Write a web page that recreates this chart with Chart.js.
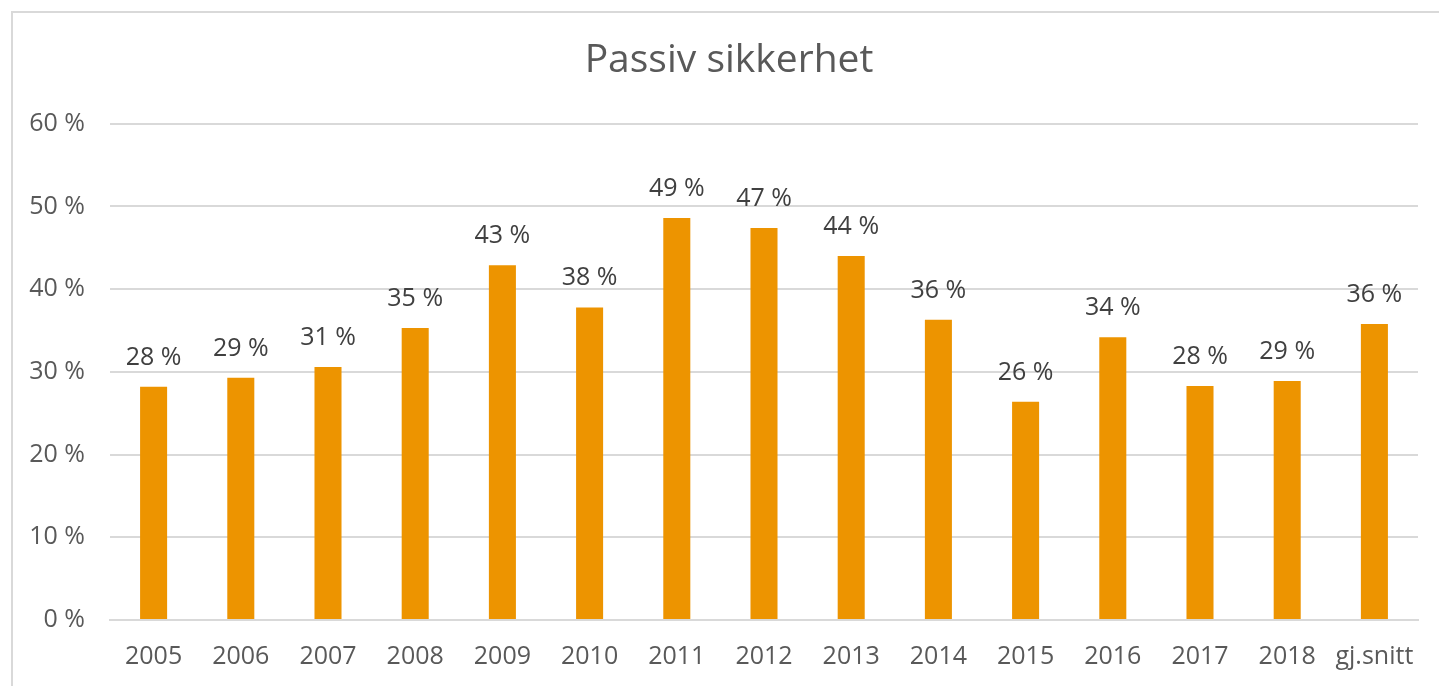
<!DOCTYPE html>
<html>
<head>
<meta charset="utf-8">
<script src="https://cdn.jsdelivr.net/npm/chart.js@4/dist/chart.umd.min.js"></script>
<style>
    html, body { margin: 0; padding: 0; background: #fff; overflow: hidden; }
    #frame { position: absolute; left: 11px; top: 11px; width: 1500px; height: 800px; border: 2px solid #d9d9d9; box-sizing: border-box; }
    #wrap { position: absolute; left: 0; top: 0; width: 1439px; height: 686px; }
</style>
</head>
<body>
<div id="frame"></div>
<div id="wrap"><canvas id="chart-passiv"></canvas></div>
<script>
// ── Données ─────────────────────────────────────────────────────────
const categories = ['2005', '2006', '2007', '2008', '2009', '2010', '2011', '2012', '2013', '2014', '2015', '2016', '2017', '2018', 'gj.snitt']
const values     = [28.2, 29.3, 30.6, 35.3, 42.9, 37.8, 48.6, 47.4, 44.0, 36.3, 26.4, 34.2, 28.3, 28.9, 35.8]
const yTicks     = [0, 10, 20, 30, 40, 50, 60]

const font  = 'Open Sans'
const grey  = '#595959'
const grid  = '#d9d9d9'

// Étiquettes au-dessus des barres
const barLabels = {
    id: 'barLabels',
    afterLayout(chart) {
        // titre centré sur le cadre, pas sur le canvas
        const t = chart.titleBlock
        if (t) { t.left += 40; t.width -= 40 }
    },
    afterDatasetsDraw(chart) {
        const ctx  = chart.ctx
        const meta = chart.getDatasetMeta(0)
        ctx.save()
        ctx.font = `25px "${font}"`
        ctx.fillStyle = '#404040'
        ctx.textAlign = 'center'
        ctx.textBaseline = 'alphabetic'
        meta.data.forEach((bar, i) => {
            ctx.fillText(Math.round(values[i]) + ' %', bar.x, bar.y - 22)
        })
        ctx.restore()
    }
}

new Chart(document.getElementById('chart-passiv'), {
    type: 'bar',
    data: {
        labels: categories,
        datasets: [{
            data: values,
            backgroundColor: '#ED9400',
            borderWidth: 0,
            barPercentage: 0.31,
            categoryPercentage: 1,
        }]
    },
    options: {
        responsive: true,
        maintainAspectRatio: false,
        animation: false,
        layout: { padding: { left: 0, right: 21, top: 0, bottom: 0 } },
        plugins: {
            legend: { display: false },
            tooltip: { enabled: false },
            title: {
                display: true,
                text: 'Passiv sikkerhet',
                color: grey,
                font: { family: font, size: 39, weight: 'normal', lineHeight: 1.2 },
                padding: { top: 37, bottom: 40 },
            },
        },
        scales: {
            x: {
                grid: { display: false, drawTicks: false },
                border: { display: true, color: grid, width: 2 },
                ticks: { color: grey, font: { family: font, size: 25 }, padding: 22, maxRotation: 0, autoSkip: false },
                afterFit: (s) => { s.height = 66 },
            },
            y: {
                min: 0,
                max: 60,
                afterBuildTicks: (s) => { s.ticks = yTicks.map(v => ({ value: v })) },
                grid: { color: grid, lineWidth: 2, drawTicks: false },
                border: { display: false },
                ticks: { color: grey, font: { family: font, size: 25 }, padding: 25, callback: (v) => v + ' %' },
                afterFit: (s) => { s.width = 110 },
            }
        }
    },
    plugins: [barLabels]
})
</script>
</body>
</html>
